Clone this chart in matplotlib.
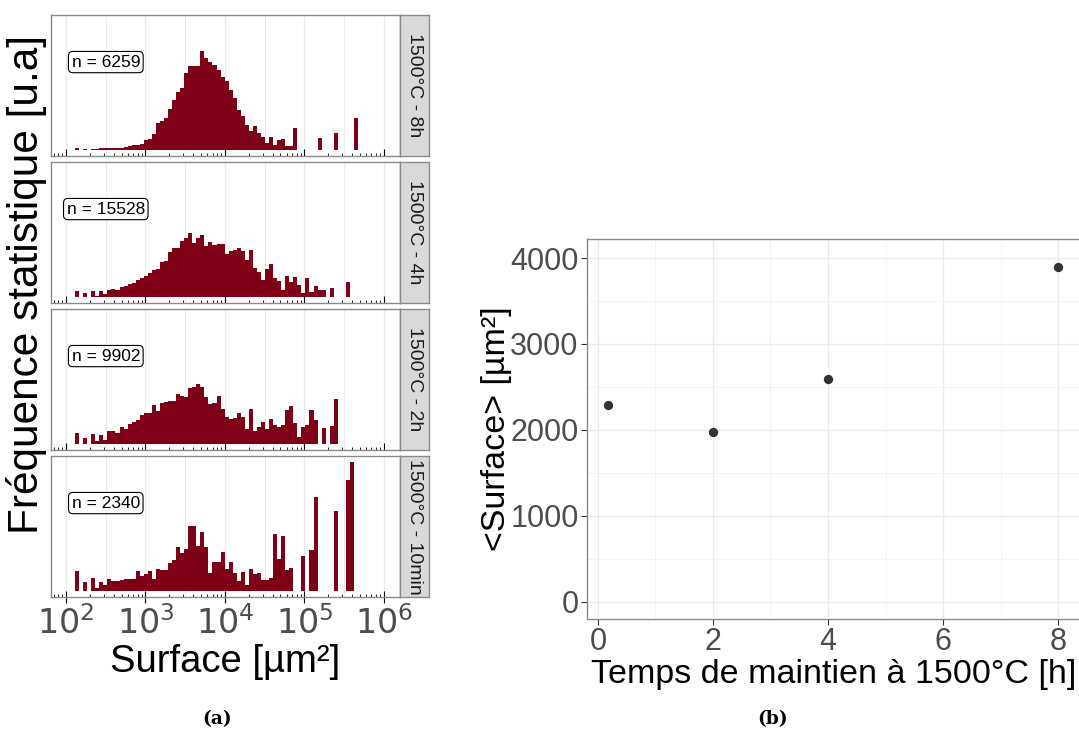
import numpy as np
import matplotlib
matplotlib.use("Agg")
import matplotlib.pyplot as plt
from matplotlib.ticker import FixedLocator, NullFormatter, FuncFormatter

plt.rcParams['font.family'] = ['Liberation Sans', 'DejaVu Sans']

# ---------------- data ----------------
strip_labels = ['1500°C - 8h', '1500°C - 4h', '1500°C - 2h', '1500°C - 10min']
n_counts = [6259, 15528, 9902, 2340]

# histogram on log10(surface), 70 bins (relative frequency, arbitrary units)
log_first_edge = 2.113
log_bin_width = 0.0509
n_bins = 70

freq_8h = ([2, 0, 1.3, 0, 1.7, 1.7, 2, 2, 2.3, 2.3, 2.7, 2.7, 3.3, 4.3, 5, 5.7, 6.7, 10.3, 11, 16,
            27, 29.3, 32.7, 41.7, 50, 58.3, 62, 77.7, 84.3, 84.3, 85,
            99.3,
            92.3, 89, 85.7, 80.7, 74, 69, 60.7, 52.3, 40.7, 34, 25.7, 19, 24, 17, 13.3, 7.3, 13.3, 5.7,
            10.7, 11.3, 4.7, 4.7,
            22.7, 0, 0, 0, 0, 0, 12, 0, 0, 0, 17, 0, 0, 0, 0, 32.7])
freq_4h = ([6, 0, 4.3, 0, 6, 1.7, 6, 3.3, 7.7, 8.3, 7.7, 10, 11, 13.7, 14.3, 17.7, 19.7, 21.7, 24, 27.7,
            28.3, 35.7, 36.7, 45.7, 49.3, 49, 56, 59.3, 64.3, 54.3, 59, 62.7, 51.7, 55.7, 52.7, 53, 53.3,
            43.3, 46.7, 47.7, 49, 46.7, 37.7, 47, 29.3, 25, 17.7, 28.3, 33.3, 19.3, 16.7, 7.7, 21.7, 15,
            20, 12.3, 4.3, 19.3, 5, 11.7, 7.7, 7.7, 0, 9, 0, 0, 0, 15, 0, 0])
freq_2h = ([11, 0, 6.7, 0, 10.3, 3.3, 9.3, 4.3, 13.7, 13, 11.7, 17, 15.3, 20.7, 22.3, 24.7, 29, 31, 31.7,
            39.7, 33, 41.7, 42, 43.3, 43.3, 50, 48.3, 47.3, 56, 57.7, 60.7, 57.7, 47.7, 40.3, 41, 48.3,
            35.7, 27, 25, 26.7, 31.7, 27.7, 15.7, 35.7, 13.7, 17, 22.3, 15.7, 25, 19.7, 17.3, 19.7, 34,
            38.3, 21, 7.7, 17.7, 19.7, 34, 24.3, 0, 16.3, 0, 18.7, 45.7, 0, 0, 0, 0, 0])
freq_10min = ([20.7, 0, 9, 0, 13, 3.7, 9.7, 6, 12, 10.3, 10.3, 11, 12, 12, 12, 20, 15.7, 17, 20, 12.3,
               22.3, 21.3, 21.7, 28.3, 31.7, 44.3, 38.7, 42, 65, 65, 45, 59.3, 44.3, 18.7, 29, 29, 39.3,
               22.3, 29, 18.3, 10.3, 19, 6.7, 22.3, 17.7, 18, 11, 11.7, 13.3, 57.7, 32.3, 55.3, 21.7,
               23.3, 0, 0, 35, 0, 41, 95, 0, 0, 0, 0, 80.3, 0, 0, 112, 129.3, 0])
freqs = [freq_8h, freq_4h, freq_2h, freq_10min]

x_ticks_log = [2, 3, 4, 5, 6]

# right panel
temps_h = [0.1667, 2, 4, 8]
surface_moy = [2290, 1980, 2595, 3895]
y_ticks_right = [0, 1000, 2000, 3000, 4000]
x_ticks_right = [0, 2, 4, 6, 8]

# ---------------- layout ----------------
W, H = 1079, 735
fig = plt.figure(figsize=(W / 100, H / 100), dpi=100)


def px_axes(left, top, right, bottom, **kw):
    return fig.add_axes([left / W, 1 - bottom / H, (right - left) / W, (bottom - top) / H], **kw)


BAR = '#7E0016'
GRID = '#EBEBEB'
BORDER = '#8A8A8A'
TICKTXT = '#4D4D4D'

edges_log = log_first_edge + log_bin_width * np.arange(n_bins + 1)
edges = 10 ** edges_log
hmax = max(max(f) for f in freqs)

panel_rows = [(15, 156), (162, 303), (309, 450), (456, 597)]
P_LEFT, P_RIGHT, S_RIGHT = 51, 400, 429

for i, (top, bot) in enumerate(panel_rows):
    ax = px_axes(P_LEFT, top, P_RIGHT, bot)
    ax.set_xscale('log')
    ax.set_xlim(10 ** 1.81, 10 ** 6.205)
    ax.set_ylim(-0.045 * hmax, 1.05 * hmax)
    # grid every half decade
    for g in np.arange(2, 6.01, 0.5):
        ax.axvline(10 ** g, color=GRID, lw=1.0 if g % 1 == 0 else 0.7, zorder=0)
    ax.stairs(freqs[i], edges, fill=True, color=BAR, zorder=2, lw=0)
    ax.text(10 ** 2.5, 88.5 / 129.3 * hmax, f'n = {n_counts[i]}', ha='center', va='center',
            fontsize=12.5, color='black', zorder=5,
            bbox=dict(boxstyle='round,pad=0.18,rounding_size=0.25', fc='white', ec='black', lw=0.8))
    ax.set_yticks([])
    # log ticks (inside) + outer major ticks
    ax.xaxis.set_major_locator(FixedLocator([10.0 ** k for k in x_ticks_log]))
    minors = [m * 10.0 ** k for k in range(1, 7) for m in range(2, 10)]
    ax.xaxis.set_minor_locator(FixedLocator(minors))
    ax.xaxis.set_minor_formatter(NullFormatter())
    ax.tick_params(axis='x', which='minor', direction='in', length=2.5, width=0.6, color='black')
    if i == 3:
        ax.tick_params(axis='x', which='major', direction='inout', length=9, width=0.8,
                       color='black', labelsize=24, labelcolor=TICKTXT, pad=2)
        ax.xaxis.set_major_formatter(FuncFormatter(lambda v, p: r'$10^{%d}$' % round(np.log10(v))))
        ax.set_xlabel('Surface [µm²]', fontsize=27.5, color='black', labelpad=2)
    else:
        ax.tick_params(axis='x', which='major', direction='in', length=5, width=0.8,
                       color='black', labelbottom=False)
    for s in ax.spines.values():
        s.set_color(BORDER)
        s.set_linewidth(1.0)

    # strip
    sa = px_axes(P_RIGHT, top, S_RIGHT, bot)
    sa.set_facecolor('#D9D9D9')
    sa.set_xticks([])
    sa.set_yticks([])
    for s in sa.spines.values():
        s.set_color(BORDER)
        s.set_linewidth(1.0)
    sa.text(0.5, 0.5, strip_labels[i], rotation=-90, ha='center', va='center',
            fontsize=14, color='#1A1A1A', transform=sa.transAxes)

fig.text(27 / W, 1 - 285 / H, 'Fréquence statistique [u.a]', rotation=90, ha='center', va='center',
         fontsize=30.5, color='black')

# ---------------- right panel ----------------
ax2 = px_axes(587, 239, 1080.5, 619)
ax2.set_xlim(-0.19, 8.39)
ax2.set_ylim(-198, 4221)
ax2.set_xticks(x_ticks_right)
ax2.set_xticks([1, 3, 5, 7], minor=True)
ax2.set_yticks(y_ticks_right)
ax2.set_yticks([500, 1500, 2500, 3500], minor=True)
ax2.grid(True, which='major', color=GRID, lw=1.0)
ax2.grid(True, which='minor', color='#F3F3F3', lw=0.7)
ax2.set_axisbelow(True)
ax2.scatter(temps_h, surface_moy, s=45, color='#333333', zorder=3, linewidths=0)
ax2.tick_params(which='major', length=4, width=0.8, color='#333333', labelsize=22,
                labelcolor=TICKTXT, pad=2)
ax2.tick_params(which='minor', length=0)
ax2.set_xlabel('Temps de maintien à 1500°C [h]', fontsize=24.5, color='black', labelpad=1)
ax2.set_ylabel('<Surface> [µm²]', fontsize=24.5, color='black')
ax2.yaxis.set_label_coords(-(587 - 512) / (1080.5 - 587), 0.5)
for s in ax2.spines.values():
    s.set_color(BORDER)
    s.set_linewidth(1.0)

# sub-captions
fig.text(217 / W, 1 - 719 / H, '(a)', ha='center', va='center', fontsize=13.5,
         fontweight='bold', family='DejaVu Serif')
fig.text(773 / W, 1 - 719 / H, '(b)', ha='center', va='center', fontsize=13.5,
         fontweight='bold', family='DejaVu Serif')

fig.savefig('out.png', dpi=100, facecolor='white')
